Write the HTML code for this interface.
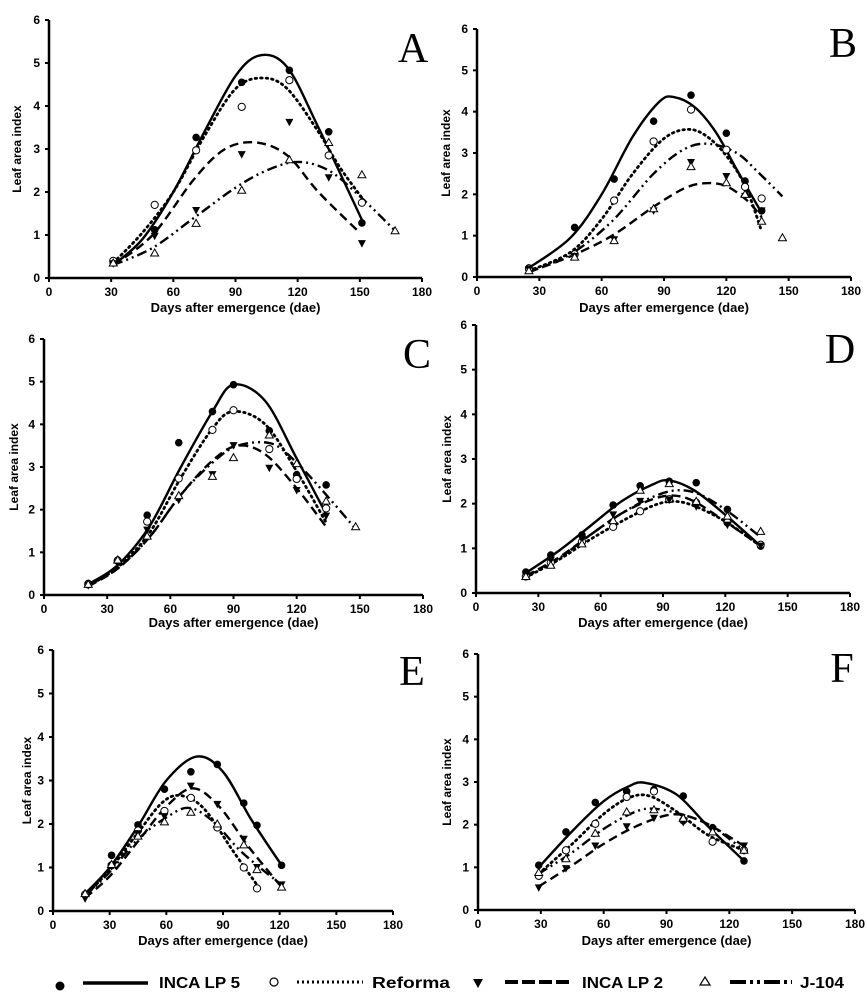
<!DOCTYPE html>
<html><head><meta charset="utf-8">
<style>
html,body{margin:0;padding:0;background:#fff;}
svg{display:block;}
text{font-family:"Liberation Sans",Arial,sans-serif;}
text.serif{font-family:"Liberation Serif","DejaVu Serif",serif;}
</style></head>
<body>
<svg id="chart" width="868" height="1004" viewBox="0 0 868 1004" xmlns="http://www.w3.org/2000/svg">
<g id="panels"></g>
<g id="legend">
  <circle cx="60" cy="986" r="4.5" fill="#000"/>
  <line x1="83" y1="983" x2="148" y2="983" stroke="#000" stroke-width="3.5"/>
  <text x="159" y="988" font-size="16" font-weight="bold" textLength="81" lengthAdjust="spacingAndGlyphs">INCA LP 5</text>
  <circle cx="274" cy="982" r="4" fill="#fff" stroke="#000" stroke-width="1.2"/>
  <line x1="297" y1="982" x2="363" y2="982" stroke="#000" stroke-width="3" stroke-dasharray="2 3"/>
  <text x="372" y="988" font-size="16" font-weight="bold" textLength="78" lengthAdjust="spacingAndGlyphs">Reforma</text>
  <path d="M473,979 L483,979 L478,988 Z" fill="#000"/>
  <line x1="505" y1="982" x2="570" y2="982" stroke="#000" stroke-width="4" stroke-dasharray="13 4"/>
  <text x="582" y="988" font-size="16" font-weight="bold" textLength="81" lengthAdjust="spacingAndGlyphs">INCA LP 2</text>
  <path d="M705,977 L710,985 L700,985 Z" fill="#fff" stroke="#000" stroke-width="1.2"/>
  <line x1="730" y1="982" x2="792" y2="982" stroke="#000" stroke-width="4" stroke-dasharray="16 4 3 4 3 4"/>
  <text x="800" y="988" font-size="16" font-weight="bold" textLength="44" lengthAdjust="spacingAndGlyphs">J-104</text>
</g>
</svg>
<script>
// ---------- data (days after emergence, leaf area index) ----------
const xTicks = [0,30,60,90,120,150,180];
const yTicks = [0,1,2,3,4,5,6];
const seriesNames = ["INCA LP 5","Reforma","INCA LP 2","J-104"];
const panelLetters = ["A","B","C","D","E","F"];

// Panel A
const ptsA_lp5 = [[31,0.35],[51,1.12],[71,3.27],[93,4.55],[116,4.83],[135,3.4],[151,1.28]];
const ptsA_ref = [[31,0.4],[51,1.7],[71,2.97],[93,3.98],[116,4.6],[135,2.85],[151,1.75]];
const ptsA_lp2 = [[31,0.33],[51,0.97],[71,1.57],[93,2.87],[116,3.62],[135,2.33],[151,0.8]];
const ptsA_j104 = [[31,0.35],[51,0.58],[71,1.27],[93,2.04],[116,2.75],[135,3.15],[151,2.4],[167,1.1]];
const crvA_lp5 = [[31,0.3],[45,0.9],[60,2.0],[75,3.4],[90,4.7],[102,5.18],[115,4.9],[130,3.5],[151,1.35]];
const crvA_ref = [[31,0.35],[45,1.05],[60,2.0],[75,3.3],[90,4.4],[103,4.65],[115,4.4],[130,3.4],[140,2.6],[152,1.8]];
const crvA_lp2 = [[31,0.3],[50,1.0],[70,2.3],[85,3.0],[100,3.15],[115,2.85],[130,2.0],[150,1.05]];
const crvA_j104 = [[31,0.3],[50,0.7],[70,1.4],[90,2.1],[105,2.5],[120,2.7],[135,2.5],[150,1.9],[167,1.1]];

// Panel B
const ptsB_lp5 = [[25,0.22],[47,1.2],[66,2.37],[85,3.77],[103,4.4],[120,3.48],[129,2.32],[137,1.6]];
const ptsB_ref = [[25,0.2],[47,0.55],[66,1.85],[85,3.28],[103,4.05],[120,3.08],[129,2.18],[137,1.9]];
const ptsB_lp2 = [[25,0.18],[47,0.5],[66,0.9],[85,1.6],[103,2.77],[120,2.43],[129,1.95],[137,1.6]];
const ptsB_j104 = [[25,0.15],[47,0.48],[66,0.88],[85,1.65],[103,2.67],[120,2.28],[129,2.0],[137,1.35],[147,0.95]];
const crvB_lp5 = [[25,0.22],[45,0.95],[60,2.0],[75,3.4],[88,4.25],[95,4.35],[105,4.1],[115,3.5],[125,2.6],[137,1.55]];
const crvB_ref = [[25,0.15],[45,0.6],[60,1.4],[75,2.5],[90,3.35],[102,3.57],[112,3.35],[122,2.8],[130,2.1],[137,1.1]];
const crvB_lp2 = [[25,0.12],[45,0.5],[65,1.0],[85,1.7],[100,2.15],[110,2.27],[120,2.2],[130,1.85],[137,1.45]];
const crvB_j104 = [[25,0.12],[45,0.55],[65,1.35],[85,2.5],[100,3.1],[112,3.22],[125,3.0],[135,2.55],[147,1.95]];

// Panel C
const ptsC_lp5 = [[21,0.27],[35,0.82],[49,1.87],[64,3.57],[80,4.3],[90,4.93],[107,3.85],[120,2.82],[134,2.58]];
const ptsC_ref = [[21,0.25],[35,0.8],[49,1.72],[64,2.73],[80,3.87],[90,4.33],[107,3.42],[120,2.72],[134,2.03]];
const ptsC_lp2 = [[21,0.22],[35,0.75],[49,1.52],[64,2.22],[80,2.82],[90,3.5],[107,2.97],[120,2.45],[134,1.85]];
const ptsC_j104 = [[21,0.25],[35,0.82],[49,1.38],[64,2.33],[80,2.78],[90,3.22],[107,3.75],[120,3.08],[134,2.2],[148,1.6]];
const crvC_lp5 = [[21,0.25],[35,0.7],[50,1.6],[65,3.0],[80,4.3],[90,4.93],[105,4.55],[120,3.2],[134,1.9]];
const crvC_ref = [[21,0.22],[35,0.65],[50,1.45],[65,2.75],[80,3.9],[90,4.3],[105,4.0],[120,2.9],[134,1.7]];
const crvC_lp2 = [[21,0.2],[35,0.62],[50,1.35],[65,2.35],[80,3.15],[92,3.5],[105,3.3],[120,2.5],[134,1.6]];
const crvC_j104 = [[21,0.22],[35,0.62],[50,1.35],[65,2.35],[80,3.1],[92,3.5],[108,3.55],[120,3.1],[134,2.35],[148,1.55]];

// Panel D
const ptsD_lp5 = [[24,0.47],[36,0.85],[51,1.3],[66,1.97],[79,2.4],[93,2.5],[106,2.47],[121,1.87],[137,1.05]];
const ptsD_ref = [[24,0.37],[36,0.68],[51,1.15],[66,1.48],[79,1.83],[93,2.1],[106,2.02],[121,1.58],[137,1.08]];
const ptsD_lp2 = [[24,0.4],[36,0.73],[51,1.2],[66,1.75],[79,2.05],[93,2.08],[106,1.93],[121,1.52],[137,1.05]];
const ptsD_j104 = [[24,0.37],[36,0.62],[51,1.1],[66,1.62],[79,2.3],[93,2.45],[106,2.05],[121,1.72],[137,1.38]];
const crvD_lp5 = [[24,0.45],[40,0.95],[55,1.5],[70,2.05],[85,2.43],[93,2.52],[105,2.3],[120,1.75],[137,1.05]];
const crvD_ref = [[24,0.35],[40,0.75],[55,1.2],[70,1.6],[85,1.95],[95,2.05],[105,1.95],[120,1.6],[137,1.05]];
const crvD_lp2 = [[24,0.38],[40,0.8],[55,1.3],[70,1.78],[85,2.1],[95,2.18],[105,2.05],[120,1.6],[137,1.05]];
const crvD_j104 = [[24,0.37],[40,0.78],[55,1.3],[70,1.78],[85,2.15],[97,2.3],[108,2.2],[122,1.8],[137,1.25]];

// Panel E
const ptsE_lp5 = [[17,0.38],[31,1.28],[45,1.98],[59,2.8],[73,3.2],[87,3.37],[101,2.48],[108,1.97],[121,1.05]];
const ptsE_ref = [[17,0.38],[31,1.05],[45,1.85],[59,2.3],[73,2.6],[87,1.92],[101,1.0],[108,0.52]];
const ptsE_lp2 = [[17,0.28],[31,1.02],[45,1.78],[59,2.17],[73,2.87],[87,2.45],[101,1.65],[108,1.0],[121,0.6]];
const ptsE_j104 = [[17,0.4],[31,1.07],[45,1.72],[59,2.05],[73,2.27],[87,2.0],[101,1.52],[108,0.95],[121,0.55]];
const crvE_lp5 = [[17,0.4],[30,1.0],[45,1.95],[60,3.0],[76,3.55],[90,3.2],[105,2.1],[121,1.05]];
const crvE_ref = [[17,0.35],[30,0.95],[45,1.8],[58,2.5],[68,2.65],[80,2.35],[95,1.4],[108,0.6]];
const crvE_lp2 = [[17,0.3],[30,0.8],[45,1.6],[60,2.4],[74,2.82],[88,2.4],[104,1.45],[121,0.55]];
const crvE_j104 = [[17,0.35],[30,0.9],[45,1.65],[60,2.15],[72,2.37],[85,2.05],[100,1.35],[121,0.6]];

// Panel F
const ptsF_lp5 = [[29,1.05],[42,1.83],[56,2.52],[71,2.78],[84,2.82],[98,2.67],[112,1.93],[127,1.15]];
const ptsF_ref = [[29,0.8],[42,1.4],[56,2.02],[71,2.65],[84,2.78],[98,2.1],[112,1.6],[127,1.4]];
const ptsF_lp2 = [[29,0.52],[42,0.97],[56,1.5],[71,1.95],[84,2.15],[98,2.05],[112,1.88],[127,1.5]];
const ptsF_j104 = [[29,0.88],[42,1.2],[56,1.8],[71,2.3],[84,2.35],[98,2.15],[112,1.83],[127,1.4]];
const crvF_lp5 = [[29,1.0],[45,1.85],[60,2.55],[72,2.9],[80,2.98],[95,2.7],[110,1.95],[127,1.15]];
const crvF_ref = [[29,0.85],[45,1.55],[60,2.25],[72,2.63],[82,2.67],[95,2.3],[110,1.75],[127,1.4]];
const crvF_lp2 = [[29,0.55],[45,1.05],[60,1.55],[75,1.95],[90,2.22],[100,2.2],[112,1.95],[127,1.5]];
const crvF_j104 = [[29,0.85],[45,1.35],[60,1.9],[75,2.3],[85,2.37],[100,2.2],[112,1.95],[127,1.4]];

// ---------- layout (pixel geometry, not data) ----------
const layout = [
 {x0:49,x1:422,y0:278,y1:20, ylab:17, tl:312, lx:413,ly:62},
 {x0:477,x1:851,y0:277,y1:29, ylab:446, tl:312, lx:843,ly:57},
 {x0:44,x1:423,y0:595,y1:339, ylab:14, tl:627, lx:417,ly:368},
 {x0:476,x1:850,y0:593,y1:325, ylab:447, tl:627, lx:840,ly:363},
 {x0:53,x1:393,y0:911,y1:650, ylab:27, tl:945, lx:412,ly:685},
 {x0:478,x1:855,y0:910,y1:654, ylab:447, tl:945, lx:842,ly:682}
];
const panelPts = [[ptsA_lp5,ptsA_ref,ptsA_lp2,ptsA_j104],[ptsB_lp5,ptsB_ref,ptsB_lp2,ptsB_j104],[ptsC_lp5,ptsC_ref,ptsC_lp2,ptsC_j104],[ptsD_lp5,ptsD_ref,ptsD_lp2,ptsD_j104],[ptsE_lp5,ptsE_ref,ptsE_lp2,ptsE_j104],[ptsF_lp5,ptsF_ref,ptsF_lp2,ptsF_j104]];
const panelCrv = [[crvA_lp5,crvA_ref,crvA_lp2,crvA_j104],[crvB_lp5,crvB_ref,crvB_lp2,crvB_j104],[crvC_lp5,crvC_ref,crvC_lp2,crvC_j104],[crvD_lp5,crvD_ref,crvD_lp2,crvD_j104],[crvE_lp5,crvE_ref,crvE_lp2,crvE_j104],[crvF_lp5,crvF_ref,crvF_lp2,crvF_j104]];
const dashes = [null,"1.5 4","9 5","10 4 2 4 2 4"];
const slugs = ["inca-lp5","reforma","inca-lp2","j104"];

const NS = "http://www.w3.org/2000/svg";
const root = document.getElementById("panels");
function mk(tag, attrs, parent){const e=document.createElementNS(NS,tag);for(const k in attrs)e.setAttribute(k,attrs[k]);parent.appendChild(e);return e;}
function smooth(p){
  let d="M"+p[0][0].toFixed(1)+","+p[0][1].toFixed(1);
  for(let i=0;i<p.length-1;i++){
    const a=p[Math.max(i-1,0)],b=p[i],c=p[i+1],e=p[Math.min(i+2,p.length-1)];
    const c1=[b[0]+(c[0]-a[0])/6,b[1]+(c[1]-a[1])/6],c2=[c[0]-(e[0]-b[0])/6,c[1]-(e[1]-b[1])/6];
    d+=" C"+c1[0].toFixed(1)+","+c1[1].toFixed(1)+" "+c2[0].toFixed(1)+","+c2[1].toFixed(1)+" "+c[0].toFixed(1)+","+c[1].toFixed(1);
  }
  return d;
}

layout.forEach((L,pi)=>{
  const sx=v=>L.x0+(v-0)/(180-0)*(L.x1-L.x0);
  const sy=v=>L.y0-(v-0)/(6-0)*(L.y0-L.y1);
  const g=mk("g",{},root);
  
  
  const ax=mk("path",{d:`M${L.x0},${L.y1} L${L.x0},${L.y0} L${L.x1},${L.y0}`,fill:"none",stroke:"#000","stroke-width":2.5},g);
  
  
  xTicks.forEach(t=>{
    const x=sx(t);
    const tk=mk("line",{x1:x,y1:L.y0,x2:x,y2:L.y0+4,stroke:"#000","stroke-width":2},g);
    
    
    const tx=mk("text",{x:x,y:L.y0+18,"font-size":12,"font-weight":"bold","text-anchor":"middle"},g);
    tx.textContent=t;
    
    
  });
  yTicks.forEach(t=>{
    const y=sy(t);
    const tk=mk("line",{x1:L.x0-4,y1:y,x2:L.x0,y2:y,stroke:"#000","stroke-width":2},g);
    
    
    const tx=mk("text",{x:L.x0-9,y:y+4,"font-size":12,"font-weight":"bold","text-anchor":"end"},g);
    tx.textContent=t;
    
    
  });
  const xt=mk("text",{x:(L.x0+L.x1)/2,y:L.tl,"font-size":13,"font-weight":"bold","text-anchor":"middle"},g);
  xt.textContent="Days after emergence (dae)";
  
  
  const ym=(L.y0+L.y1)/2;
  const yt=mk("text",{x:L.ylab,y:ym,"font-size":12,"font-weight":"bold","text-anchor":"middle",transform:`rotate(-90 ${L.ylab} ${ym}) translate(0 4)`},g);
  yt.textContent="Leaf area index";
  
  
  const lt=mk("text",{x:L.lx,y:L.ly,"font-size":42,"text-anchor":"middle","class":"serif"},g);
  lt.textContent=panelLetters[pi];
  
  
  panelCrv[pi].forEach((c,si)=>{
    const p=c.map(q=>[sx(q[0]),sy(q[1])]);
    const attrs={d:smooth(p),fill:"none",stroke:"#000","stroke-width":si===1?2.8:2.4};
    if(dashes[si]){attrs["stroke-dasharray"]=dashes[si];}
    if(si===1)attrs["stroke-linecap"]="round";
    const path=mk("path",attrs,g);
    
    
  });
  panelPts[pi].forEach((pts,si)=>{
    pts.forEach(q=>{
      const x=sx(q[0]),y=sy(q[1]);
      let m;
      if(si===0)m=mk("circle",{cx:x,cy:y,r:3.8,fill:"#000"},g);
      else if(si===1)m=mk("circle",{cx:x,cy:y,r:3.6,fill:"#fff",stroke:"#000","stroke-width":1},g);
      else if(si===2)m=mk("path",{d:`M${x-4},${y-3.5} L${x+4},${y-3.5} L${x},${y+4} Z`,fill:"#000"},g);
      else m=mk("path",{d:`M${x},${y-4} L${x+4},${y+3} L${x-4},${y+3} Z`,fill:"#fff",stroke:"#000","stroke-width":1},g);
      
      
    });
  });
});
</script>
</body></html>
